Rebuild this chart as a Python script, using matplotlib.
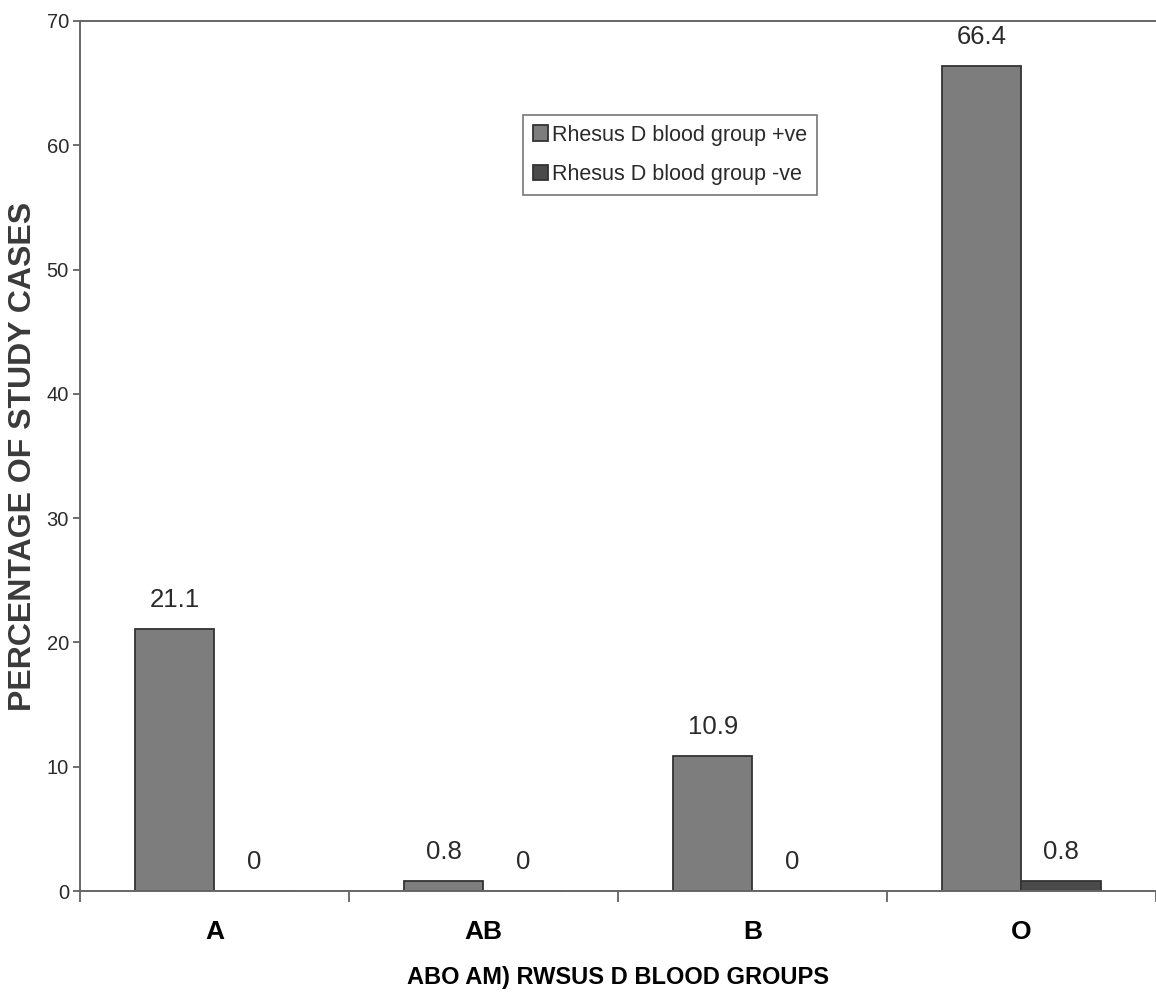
import matplotlib.pyplot as plt
import numpy as np

# percentage of study cases per ABO group, split by Rhesus D status
groups = ["A", "AB", "B", "O"]
rh_pos = [21.1, 0.8, 10.9, 66.4]
rh_neg = [0, 0, 0, 0.8]
series_names = ["Rhesus D blood group +ve", "Rhesus D blood group -ve"]

plt.rcParams['font.family'] = ['Liberation Sans', 'DejaVu Sans']

fig = plt.figure(figsize=(11.56, 9.94), dpi=100)
ax = fig.add_axes([0.0692, 0.1036, 0.9308, 0.8753])

x = np.arange(len(groups))
width = 0.296

bars_pos = ax.bar(x - width / 2, rh_pos, width, color="#7d7d7d",
                  edgecolor="#333333", linewidth=1.3, label=series_names[0])
bars_neg = ax.bar(x + width / 2, rh_neg, width, color="#4a4a4a",
                  edgecolor="#333333", linewidth=1.3, label=series_names[1])

# value labels above each bar
for bars, vals in [(bars_pos, rh_pos), (bars_neg, rh_neg)]:
    for b, v in zip(bars, vals):
        ax.annotate(f"{v:g}", (b.get_x() + b.get_width() / 2, v),
                    xytext=(0, 12), textcoords="offset points",
                    ha="center", va="bottom", fontsize=18.5, color="#2a2a2a")

ax.set_xlim(-0.5, len(groups) - 0.5)
ax.set_ylim(0, 70)
ax.set_yticks(range(0, 71, 10))

# category separators as x ticks, names centred between them
ax.set_xticks(np.arange(len(groups) + 1) - 0.5)
ax.set_xticklabels([])
ax.set_xticks(x, minor=True)
ax.set_xticklabels(groups, minor=True, fontsize=19, fontweight="bold")
ax.tick_params(axis="x", which="minor", length=0, pad=21)
ax.tick_params(axis="x", which="major", length=8, width=1.2, color="#555555")
ax.tick_params(axis="y", length=5, width=1.2, color="#555555",
               labelsize=14.5, labelcolor="#2a2a2a", pad=3)

for side in ["left", "bottom", "top"]:
    ax.spines[side].set_color("#666666")
    ax.spines[side].set_linewidth(1.4)
ax.spines["right"].set_visible(False)

ax.set_ylabel("PERCENTAGE OF STUDY CASES", fontsize=23, fontweight="bold",
              color="#3a3a3a", labelpad=6)
ax.set_xlabel("ABO AM) RWSUS D BLOOD GROUPS", fontsize=17, fontweight="bold",
              labelpad=16)

leg = ax.legend(loc="upper left", bbox_to_anchor=(0.4117, 0.892), fontsize=15.5,
                frameon=True, fancybox=False, handlelength=0.7,
                handleheight=0.75, handletextpad=0.2, borderpad=0.45,
                labelspacing=0.85, borderaxespad=0)
leg.get_frame().set_edgecolor("#555555")
leg.get_frame().set_linewidth(1.2)
for t in leg.get_texts():
    t.set_color("#2a2a2a")

fig.savefig("out.png", dpi=100)
